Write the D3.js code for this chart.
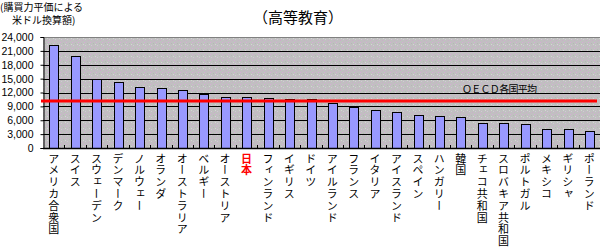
<!DOCTYPE html>
<html>
<head>
<meta charset="utf-8">
<script src="https://cdn.jsdelivr.net/npm/d3@7"></script>
<style>
  body { margin: 0; background: #fff; }
  text { font-family: "Noto Sans CJK JP", "DejaVu Sans", sans-serif; }
</style>
</head>
<body>
<script>
const countries = ['アメリカ合衆国', 'スイス', 'スウェーデン', 'デンマーク', 'ノルウェー', 'オランダ',
  'オーストラリア', 'ベルギー', 'オーストリア', '日本', 'フィンランド', 'イギリス', 'ドイツ',
  'アイルランド', 'フランス', 'イタリア', 'アイスランド', 'スペイン', 'ハンガリー', '韓国',
  'チェコ共和国', 'スロバキア共和国', 'ポルトガル', 'メキシコ', 'ギリシャ', 'ポーランド'];
const spending = [22200, 20000, 15000, 14200, 13100, 12900, 12600, 11600, 11100, 11100, 10900,
  10700, 10500, 9800, 8800, 8300, 7700, 7200, 7000, 6600, 5500, 5300, 5100, 4100, 4100, 3600];
const oecdAverage = 10150;
const yTicks = [0, 3000, 6000, 9000, 12000, 15000, 18000, 21000, 24000];

const width = 603, height = 250;
const margin = { left: 43, right: 3, top: 37, bottom: 102 };

const svg = d3.select('body').append('svg')
  .attr('width', width)
  .attr('height', height);

// dithered grey fill like the original
const defs = svg.append('defs');
const pat = defs.append('pattern')
  .attr('id', 'noise')
  .attr('width', 6).attr('height', 6)
  .attr('patternUnits', 'userSpaceOnUse');
pat.append('rect').attr('width', 6).attr('height', 6).attr('fill', '#c0c0c0');
[[0, 0, '#d8a8d8'], [3, 1, '#b6b6b6'], [1, 3, '#d4c4d8'], [4, 4, '#ccacca'], [5, 2, '#d4d4d4'], [2, 5, '#c8b4c8']]
  .forEach(([px, py, c]) => pat.append('rect').attr('x', px).attr('y', py)
    .attr('width', 1).attr('height', 1).attr('fill', c));

const x = d3.scaleBand()
  .domain(countries)
  .range([margin.left, width - margin.right])
  .paddingInner(0.6)
  .paddingOuter(0.3);

const y = d3.scaleLinear()
  .domain([0, 24000])
  .range([height - margin.bottom, margin.top]);

// plot area
svg.append('rect')
  .attr('x', margin.left)
  .attr('y', margin.top)
  .attr('width', width - margin.left - margin.right)
  .attr('height', y(0) - margin.top)
  .attr('fill', 'url(#noise)');

svg.append('line')
  .attr('x1', margin.left).attr('x2', width - margin.right)
  .attr('y1', margin.top + 0.5).attr('y2', margin.top + 0.5)
  .attr('stroke', '#808080');

// gridlines
svg.append('g')
  .selectAll('line')
  .data(yTicks.filter(d => d > 0 && d < 24000))
  .join('line')
  .attr('x1', margin.left).attr('x2', width - margin.right)
  .attr('y1', d => Math.round(y(d)) + 0.5)
  .attr('y2', d => Math.round(y(d)) + 0.5)
  .attr('stroke', '#000');

// y axis
const yAxis = svg.append('g')
  .attr('transform', `translate(${margin.left + 0.5},0)`)
  .call(d3.axisLeft(y).tickValues(yTicks).tickSize(3).tickFormat(d3.format(',')));
yAxis.select('.domain').attr('stroke', '#000');
yAxis.selectAll('text')
  .attr('x', -10)
  .attr('font-size', 10.5)
  .attr('fill', '#000')
  .style('font-family', '"Liberation Sans", Arial, sans-serif');

// bars
svg.append('g')
  .selectAll('rect')
  .data(countries)
  .join('rect')
  .attr('x', d => Math.round(x(d)) + 0.5)
  .attr('y', (d, i) => Math.round(y(spending[i])) + 0.5)
  .attr('width', Math.round(x.bandwidth()))
  .attr('height', (d, i) => Math.round(y(0)) - Math.round(y(spending[i])))
  .attr('fill', '#9999ff')
  .attr('stroke', '#000');

// x axis baseline with little upward ticks between categories
const step = x.step();
svg.append('line')
  .attr('x1', margin.left).attr('x2', width - margin.right)
  .attr('y1', Math.round(y(0)) + 0.5).attr('y2', Math.round(y(0)) + 0.5)
  .attr('stroke', '#000').attr('stroke-width', 1.5);
svg.append('g')
  .selectAll('line')
  .data(countries.slice(1))
  .join('line')
  .attr('x1', d => Math.round(x(d) - step * 0.3) + 0.5)
  .attr('x2', d => Math.round(x(d) - step * 0.3) + 0.5)
  .attr('y1', y(0)).attr('y2', y(0) - 3)
  .attr('stroke', '#000');

// OECD average
svg.append('line')
  .attr('x1', margin.left - 2).attr('x2', width - 6)
  .attr('y1', y(oecdAverage)).attr('y2', y(oecdAverage))
  .attr('stroke', '#ff0000').attr('stroke-width', 3);
svg.append('text')
  .attr('x', 462).attr('y', y(oecdAverage) - 8)
  .attr('font-size', 10)
  .attr('textLength', 75)
  .text('ＯＥＣＤ各国平均');

// category labels, vertical
svg.append('g')
  .selectAll('text')
  .data(countries)
  .join('text')
  .attr('x', d => x(d) + x.bandwidth() / 2)
  .attr('y', y(0) + 5)
  .attr('font-size', 11)
  .attr('letter-spacing', 0.8)
  .style('writing-mode', 'vertical-rl')
  .attr('fill', d => d === '日本' ? '#ff0000' : '#000')
  .attr('font-weight', d => d === '日本' ? 'bold' : 'normal')
  .text(d => d);

// titles
svg.append('text')
  .attr('x', 298).attr('y', 23)
  .attr('text-anchor', 'middle')
  .attr('font-size', 15)
  .text('（高等教育）');

const unit = svg.append('text')
  .attr('font-size', 10);
unit.append('tspan').attr('x', 0).attr('y', 11).text('(購買力平価による');
unit.append('tspan').attr('x', 12).attr('y', 24).text('米ドル換算額)');
</script>
</body>
</html>
